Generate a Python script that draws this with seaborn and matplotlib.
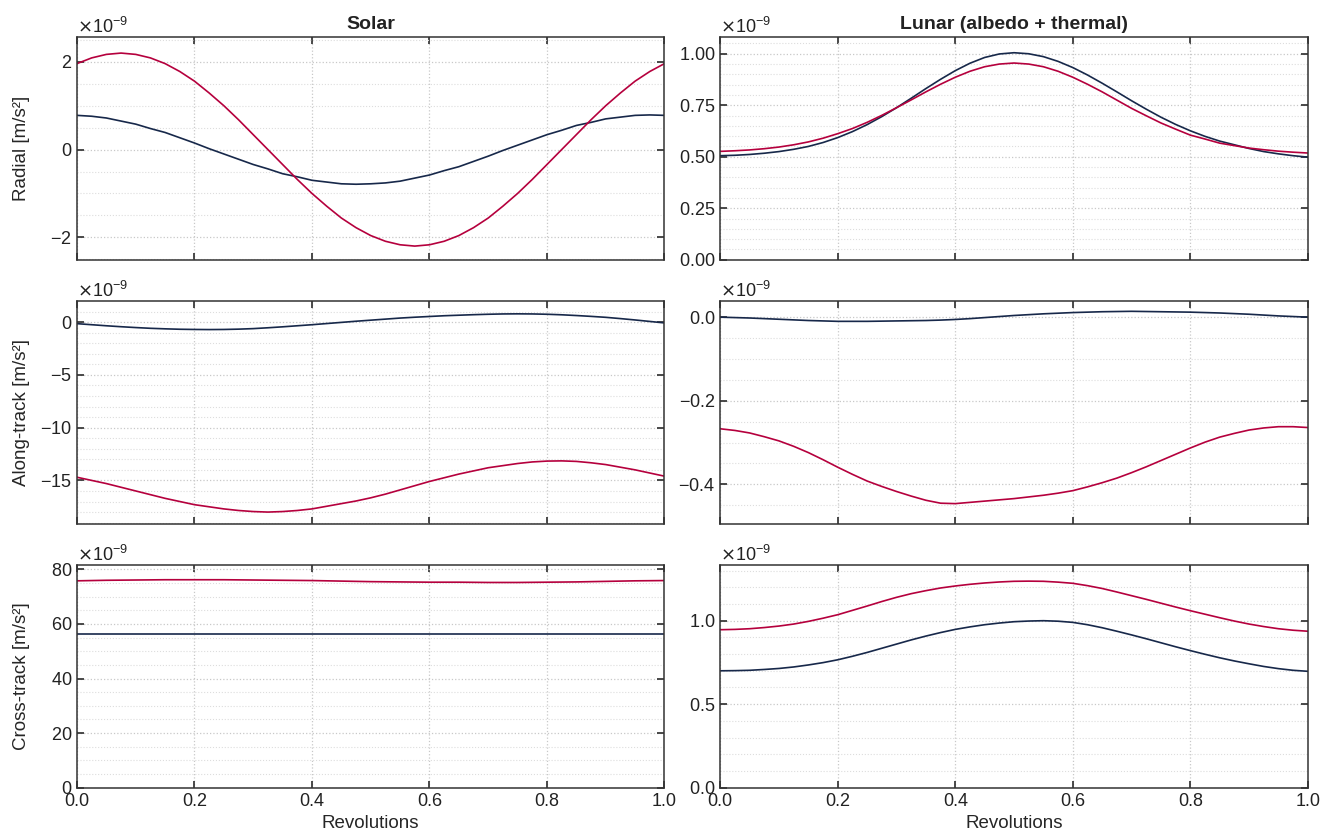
import numpy as np
import pandas as pd
import matplotlib
matplotlib.use("Agg")
import matplotlib.pyplot as plt
import seaborn as sns
from matplotlib.ticker import MultipleLocator, ScalarFormatter

# ---------------- data (units of 1e-9 m/s^2) ----------------
rev = [0.000, 0.025, 0.050, 0.075, 0.100, 0.125, 0.150, 0.175, 0.200, 0.225,
       0.250, 0.275, 0.300, 0.325, 0.350, 0.375, 0.400, 0.425, 0.450, 0.475,
       0.500, 0.525, 0.550, 0.575, 0.600, 0.625, 0.650, 0.675, 0.700, 0.725,
       0.750, 0.775, 0.800, 0.825, 0.850, 0.875, 0.900, 0.925, 0.950, 0.975, 1.000]

solar_radial_navy = [0.78, 0.76, 0.72, 0.65, 0.58, 0.48, 0.39, 0.27, 0.15, 0.02,
                     -0.10, -0.22, -0.34, -0.44, -0.55, -0.62, -0.70, -0.74, -0.78, -0.79,
                     -0.78, -0.76, -0.72, -0.65, -0.58, -0.48, -0.39, -0.27, -0.15, -0.02,
                     0.10, 0.22, 0.34, 0.44, 0.55, 0.62, 0.70, 0.74, 0.78, 0.79, 0.78]
solar_radial_red = [1.96, 2.09, 2.17, 2.20, 2.17, 2.09, 1.96, 1.78, 1.56, 1.29,
                    1.00, 0.68, 0.34, 0.00, -0.34, -0.68, -1.00, -1.29, -1.56, -1.78,
                    -1.96, -2.09, -2.17, -2.20, -2.17, -2.09, -1.96, -1.78, -1.56, -1.29,
                    -1.00, -0.68, -0.34, 0.00, 0.34, 0.68, 1.00, 1.29, 1.56, 1.78, 1.96]

lunar_radial_navy = [0.505, 0.507, 0.511, 0.517, 0.525, 0.536, 0.550, 0.569, 0.593, 0.622,
                     0.656, 0.695, 0.738, 0.784, 0.831, 0.876, 0.918, 0.954, 0.982, 0.999,
                     1.005, 1.000, 0.986, 0.963, 0.933, 0.897, 0.857, 0.815, 0.772, 0.731,
                     0.692, 0.657, 0.626, 0.599, 0.576, 0.558, 0.540, 0.525, 0.514, 0.505, 0.498]
lunar_radial_red = [0.526, 0.529, 0.533, 0.539, 0.547, 0.558, 0.572, 0.590, 0.612, 0.637,
                    0.667, 0.701, 0.738, 0.776, 0.815, 0.852, 0.886, 0.915, 0.937, 0.950,
                    0.955, 0.950, 0.937, 0.915, 0.886, 0.852, 0.815, 0.775, 0.735, 0.699,
                    0.664, 0.634, 0.605, 0.586, 0.566, 0.554, 0.542, 0.534, 0.527, 0.522, 0.518]

solar_along_navy = [-0.15, -0.25, -0.35, -0.44, -0.52, -0.59, -0.64, -0.68, -0.70, -0.71,
                    -0.70, -0.67, -0.62, -0.54, -0.45, -0.35, -0.25, -0.14, -0.03, 0.08,
                    0.18, 0.28, 0.38, 0.46, 0.53, 0.60, 0.65, 0.70, 0.74, 0.77,
                    0.78, 0.77, 0.74, 0.69, 0.62, 0.54, 0.45, 0.33, 0.20, 0.06, -0.08]
solar_along_red = [-14.7, -15.0, -15.3, -15.65, -16.0, -16.35, -16.7, -17.0, -17.3, -17.5,
                   -17.7, -17.85, -17.95, -18.0, -17.95, -17.85, -17.7, -17.45, -17.2, -16.95,
                   -16.65, -16.3, -15.9, -15.5, -15.1, -14.75, -14.4, -14.1, -13.8, -13.6,
                   -13.4, -13.25, -13.17, -13.15, -13.2, -13.33, -13.5, -13.75, -14.0, -14.3, -14.6]

lunar_along_navy = [0.000, -0.001, -0.002, -0.0035, -0.005, -0.0065, -0.008, -0.009, -0.010, -0.010,
                    -0.010, -0.0095, -0.009, -0.0085, -0.008, -0.007, -0.0055, -0.0035, -0.001, 0.0015,
                    0.004, 0.006, 0.008, 0.0095, 0.011, 0.012, 0.013, 0.0135, 0.014, 0.0135,
                    0.013, 0.0125, 0.012, 0.011, 0.010, 0.0085, 0.007, 0.005, 0.003, 0.0015, 0.000]
lunar_along_red = [-0.267, -0.271, -0.277, -0.286, -0.296, -0.309, -0.324, -0.341, -0.359, -0.376,
                   -0.392, -0.405, -0.417, -0.428, -0.438, -0.445, -0.446, -0.443, -0.440, -0.437,
                   -0.434, -0.430, -0.426, -0.421, -0.415, -0.406, -0.396, -0.385, -0.372, -0.358,
                   -0.343, -0.328, -0.313, -0.299, -0.287, -0.278, -0.270, -0.265, -0.262, -0.262, -0.264]

solar_cross_navy = [56.3, 56.3, 56.3, 56.3, 56.3, 56.3, 56.3, 56.3, 56.3, 56.3,
                    56.3, 56.3, 56.3, 56.3, 56.3, 56.3, 56.3, 56.3, 56.3, 56.3,
                    56.3, 56.3, 56.3, 56.3, 56.3, 56.3, 56.3, 56.3, 56.3, 56.3,
                    56.3, 56.3, 56.3, 56.3, 56.3, 56.3, 56.3, 56.3, 56.3, 56.3, 56.3]
solar_cross_red = [75.8, 75.9, 76.0, 76.05, 76.1, 76.15, 76.2, 76.2, 76.2, 76.2,
                   76.2, 76.15, 76.1, 76.05, 76.0, 75.95, 75.9, 75.8, 75.7, 75.6,
                   75.5, 75.45, 75.4, 75.35, 75.3, 75.3, 75.3, 75.25, 75.2, 75.2,
                   75.2, 75.25, 75.3, 75.35, 75.4, 75.5, 75.6, 75.7, 75.8, 75.85, 75.9]

lunar_cross_navy = [0.700, 0.701, 0.703, 0.708, 0.714, 0.723, 0.735, 0.749, 0.766, 0.787,
                    0.810, 0.835, 0.860, 0.885, 0.908, 0.929, 0.948, 0.963, 0.976, 0.986,
                    0.994, 0.998, 1.000, 0.997, 0.990, 0.976, 0.958, 0.937, 0.915, 0.892,
                    0.868, 0.844, 0.821, 0.799, 0.778, 0.759, 0.742, 0.726, 0.713, 0.703, 0.697]
lunar_cross_red = [0.946, 0.948, 0.952, 0.959, 0.968, 0.980, 0.996, 1.015, 1.036, 1.062,
                   1.088, 1.115, 1.140, 1.162, 1.180, 1.196, 1.208, 1.218, 1.226, 1.232,
                   1.236, 1.237, 1.236, 1.231, 1.224, 1.210, 1.193, 1.172, 1.150, 1.128,
                   1.105, 1.082, 1.060, 1.039, 1.018, 0.998, 0.980, 0.965, 0.952, 0.943, 0.937]

col_titles = ["Solar", "Lunar (albedo + thermal)"]
row_labels = ["Radial [m/s²]", "Along-track [m/s²]", "Cross-track [m/s²]"]
x_label = "Revolutions"
scale = 1e-9

NAVY = "#17284a"
RED = "#b5003d"

# ---------------- style ----------------
sns.set_theme(style="ticks")
plt.rcParams.update({
    "font.family": ["Liberation Sans", "DejaVu Sans"],
    "axes.edgecolor": "#333333",
    "axes.linewidth": 1.1,
    "xtick.direction": "in",
    "ytick.direction": "in",
    "xtick.top": True,
    "ytick.right": True,
    "xtick.major.size": 5,
    "ytick.major.size": 5,
    "xtick.color": "#333333",
    "ytick.color": "#333333",
    "xtick.labelcolor": "#222222",
    "ytick.labelcolor": "#222222",
    "xtick.labelsize": 13,
    "ytick.labelsize": 13,
})

fig, axes = plt.subplots(3, 2, figsize=(13.25, 8.36), dpi=100, sharex=True)
fig.subplots_adjust(left=0.0581, right=0.987, bottom=0.0578, top=0.9554,
                    wspace=0.095, hspace=0.187)

panels = [
    (0, 0, solar_radial_navy, solar_radial_red, 2, 0.5, (-2.51, 2.56)),
    (0, 1, lunar_radial_navy, lunar_radial_red, 0.25, 0.05, (0.0, 1.08)),
    (1, 0, solar_along_navy, solar_along_red, 5, 1, (-19.1, 1.97)),
    (1, 1, lunar_along_navy, lunar_along_red, 0.2, 0.05, (-0.494, 0.038)),
    (2, 0, solar_cross_navy, solar_cross_red, 20, 5, (0.0, 81.5)),
    (2, 1, lunar_cross_navy, lunar_cross_red, 0.5, 0.1, (0.0, 1.332)),
]

for r, c, navy, red, major, minor, ylim in panels:
    ax = axes[r, c]
    n = min(len(rev), len(navy), len(red))
    df = pd.DataFrame({
        "rev": rev[:n] + rev[:n],
        "acc": np.array(navy[:n] + red[:n]) * scale,
        "series": ["a"] * n + ["b"] * n,
    })
    sns.lineplot(data=df, x="rev", y="acc", hue="series", palette=[NAVY, RED],
                 ax=ax, legend=False, linewidth=1.2, estimator=None)
    ax.set_xlim(0, 1)
    ax.set_ylim(ylim[0] * scale, ylim[1] * scale)
    ax.xaxis.set_major_locator(MultipleLocator(0.2))
    ax.yaxis.set_major_locator(MultipleLocator(major * scale))
    ax.yaxis.set_minor_locator(MultipleLocator(minor * scale))
    fmt = ScalarFormatter(useMathText=True, useOffset=False)
    fmt.set_powerlimits((-9, -9))
    ax.yaxis.set_major_formatter(fmt)
    ax.yaxis.get_offset_text().set_fontsize(13)
    ax.tick_params(which="minor", length=0)
    ax.grid(which="major", linestyle=":", color="#c8c8c8", linewidth=0.9)
    ax.grid(which="minor", axis="y", linestyle=":", color="#dddddd", linewidth=0.8)
    ax.set_axisbelow(True)
    if c == 0:
        ax.set_ylabel(row_labels[r], fontsize=13.5)
        ax.yaxis.set_label_coords(-0.08, 0.5)
    else:
        ax.set_ylabel(None)
    if r == 2:
        ax.set_xlabel(x_label, fontsize=13.5)
    else:
        ax.set_xlabel(None)
    if r == 0:
        ax.set_title(col_titles[c], fontsize=14, fontweight="bold", color="#222222")
    for s in ax.spines.values():
        s.set_visible(True)

fig.savefig("out.png", dpi=100)
